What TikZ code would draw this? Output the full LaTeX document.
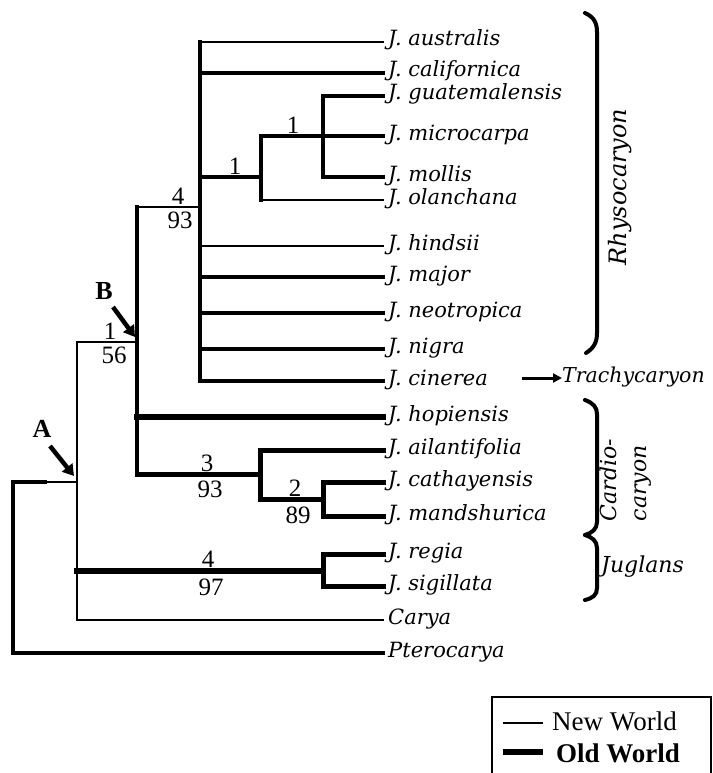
\documentclass[tikz,border=0pt]{standalone}
\usepackage{fontspec}
\setmainfont{Liberation Serif}
\newfontfamily\spfont{DejaVu Serif}
\usetikzlibrary{arrows.meta}

\tikzset{
  edge/.style={line cap=rect, line join=miter},
  nw/.style={edge, line width=2pt},      % New World branch
  ow/.style={edge, line width=3.5pt},    % Old World branch
  owb/.style={edge, line width=5pt},
  owx/.style={edge, line width=6.5pt},
  leaf/.style={font=\spfont\itshape\fontsize{21}{24}\selectfont, inner sep=0pt, anchor=base west},
  num/.style={font=\fontsize{25}{25}\selectfont, inner sep=0pt},
  clade/.style={font=\spfont\itshape\fontsize{22}{30}\selectfont, inner sep=0pt},
  tag/.style={font=\bfseries\fontsize{26}{26}\selectfont, inner sep=0pt},
  pointer/.style={line width=4.5pt, -{Triangle[length=11pt,width=13pt]}},
  brace/.style={line width=4pt, line cap=round},
  legendtxt/.style={font=\fontsize{27}{27}\selectfont, inner sep=0pt, anchor=base west},
}

\begin{document}
\begin{tikzpicture}[x=1pt, y=-1pt]
\useasboundingbox (0,0) rectangle (712,773);

% ---- tip coordinates (end of each terminal branch)
\coordinate (lAus) at (383,42);
\coordinate (lCal) at (383,73);
\coordinate (lGua) at (383,96);
\coordinate (lMic) at (383,136);
\coordinate (lMol) at (383,177);
\coordinate (lOla) at (383,200);
\coordinate (lHin) at (383,246);
\coordinate (lMaj) at (383,277);
\coordinate (lNeo) at (383,313);
\coordinate (lNig) at (383,349);
\coordinate (lCin) at (383,381);
\coordinate (lHop) at (383,417);
\coordinate (lAil) at (383,450);
\coordinate (lCat) at (383,482);
\coordinate (lMan) at (383,516);
\coordinate (lReg) at (383,554);
\coordinate (lSig) at (383,586);
\coordinate (lCar) at (383,620);
\coordinate (lPte) at (383,653);

% ---- internal nodes (x of the vertical bar, y where the stem joins)
\coordinate (root) at (13,482);
\coordinate (nA) at (77,482);
\coordinate (nB) at (137,342);
\coordinate (nR) at (200,207);
\coordinate (n1) at (261,177);
\coordinate (n2) at (323,136);
\coordinate (nC) at (260,474);
\coordinate (nD) at (323,499);
\coordinate (nJ) at (323,571);

% ---- root
\draw[nw] (root) -- (nA);
\draw[ow] (root) -- ++(32,0);
\draw[ow, line width=4pt] (root) |- (lPte);

% ---- node A
\draw[nw] (nA |- nB) |- (lCar);
\draw[nw] (nA |- nB) -- (nB);
\draw[owb, line width=6pt] (nA |- nJ) -- (nJ);

% ---- Juglans clade
\draw[owb] (nJ |- lReg) -- (nJ |- lSig);
\draw[owb] (nJ |- lReg) -- (lReg);
\draw[owb] (nJ |- lSig) -- (lSig);

% ---- node B
\draw[edge, line width=4pt] (nB |- nR) -- (nB |- nC);
\draw[nw] (nB |- nR) -- (nR);
\draw[owx] (nB |- lHop) -- (lHop);
\draw[owb] (nB |- nC) -- (nC);

% ---- Cardiocaryon clade
\draw[owb] (nC |- lAil) -- (nC |- nD);
\draw[owb] (nC |- lAil) -- (lAil);
\draw[owb] (nC |- nD) -- (nD);
\draw[owb] (nD |- lCat) -- (nD |- lMan);
\draw[owb] (nD |- lCat) -- (lCat);
\draw[owb] (nD |- lMan) -- (lMan);

% ---- Rhysocaryon clade
\draw[ow] (nR |- lAus) -- (nR |- lCin);
\draw[nw] (nR |- lAus) -- (lAus);
\draw[ow] (nR |- lCal) -- (lCal);
\draw[ow] (nR |- n1) -- (n1);
\draw[nw] (nR |- lHin) -- (lHin);
\draw[ow] (nR |- lMaj) -- (lMaj);
\draw[ow] (nR |- lNeo) -- (lNeo);
\draw[ow] (nR |- lNig) -- (lNig);
\draw[ow] (nR |- lCin) -- (lCin);
\draw[ow] (n1 |- lMic) -- (n1 |- lOla);
\draw[ow] (n1 |- lMic) -- (n2);
\draw[nw] (n1 |- lOla) -- (lOla);
\draw[ow] (n2 |- lGua) -- (n2 |- lMol);
\draw[ow] (n2 |- lGua) -- (lGua);
\draw[ow] (n2) -- (lMic);
\draw[ow] (n2 |- lMol) -- (lMol);

% ---- tip labels
\node[leaf] (tAus) at ([xshift=5pt,yshift=-4pt]lAus) {J. australis};
\node[leaf] (tCal) at ([xshift=5pt,yshift=-4pt]lCal) {J. californica};
\node[leaf] (tGua) at ([xshift=5pt,yshift=-4pt]lGua) {J. guatemalensis};
\node[leaf] (tMic) at ([xshift=5pt,yshift=-4pt]lMic) {J. microcarpa};
\node[leaf] (tMol) at ([xshift=5pt,yshift=-4pt]lMol) {J. mollis};
\node[leaf] (tOla) at ([xshift=5pt,yshift=-4pt]lOla) {J. olanchana};
\node[leaf] (tHin) at ([xshift=5pt,yshift=-4pt]lHin) {J. hindsii};
\node[leaf] (tMaj) at ([xshift=5pt,yshift=-4pt]lMaj) {J. major};
\node[leaf] (tNeo) at ([xshift=5pt,yshift=-4pt]lNeo) {J. neotropica};
\node[leaf] (tNig) at ([xshift=5pt,yshift=-4pt]lNig) {J. nigra};
\node[leaf] (tCin) at ([xshift=5pt,yshift=-4pt]lCin) {J. cinerea};
\node[leaf] (tHop) at ([xshift=5pt,yshift=-4pt]lHop) {J. hopiensis};
\node[leaf] (tAil) at ([xshift=5pt,yshift=-4pt]lAil) {J. ailantifolia};
\node[leaf] (tCat) at ([xshift=5pt,yshift=-4pt]lCat) {J. cathayensis};
\node[leaf] (tMan) at ([xshift=5pt,yshift=-4pt]lMan) {J. mandshurica};
\node[leaf] (tReg) at ([xshift=5pt,yshift=-4pt]lReg) {J. regia};
\node[leaf] (tSig) at ([xshift=5pt,yshift=-4pt]lSig) {J. sigillata};
\node[leaf] (tCar) at ([xshift=5pt,yshift=-4pt]lCar) {Carya};
\node[leaf] (tPte) at ([xshift=5pt,yshift=-4pt]lPte) {Pterocarya};

% ---- branch support values
\node[num, anchor=south] (s1a) at (235,175) {1};
\node[num, anchor=south] (s1b) at (293,134) {1};
\node[num, anchor=south] (s4a) at (178,205) {4};
\node[num, anchor=north] (s93a) at (180,212) {93};
\node[num, anchor=south] (s1c) at (110,340) {1};
\node[num, anchor=north] (s56) at (114,347) {56};
\node[num, anchor=south] (s3) at (207,472) {3};
\node[num, anchor=north] (s93b) at (210,481) {93};
\node[num, anchor=south] (s2) at (295,497) {2};
\node[num, anchor=north] (s89) at (298,507) {89};
\node[num, anchor=south] (s4b) at (208,568) {4};
\node[num, anchor=north] (s97) at (211,579) {97};

% ---- pointers A and B
\node[tag] (tagA) at (42,429) {A};
\node[tag] (tagB) at (104,291) {B};
\coordinate (pA0) at (50,446);
\coordinate (pA1) at (74,476);
\coordinate (pB0) at (113,307);
\coordinate (pB1) at (135,337);
\draw[pointer] (pA0) -- (pA1);
\draw[pointer] (pB0) -- (pB1);

% ---- section brackets
\draw[brace] (585,13) .. controls (594,17) and (597,23) .. (597,32)
  -- (597,333) .. controls (597,342) and (594,348) .. (586,353);
\draw[brace] (585,400) .. controls (593,403) and (597,407) .. (597,414)
  -- (597,522) .. controls (597,529) and (592,533) .. (585,535);
\draw[brace] (585,535) .. controls (592,537) and (597,541) .. (597,548)
  -- (597,588) .. controls (597,595) and (593,598) .. (585,600);

\node[clade, rotate=90, font=\spfont\itshape\fontsize{24}{30}\selectfont] (cRhy) at (620,187) {Rhysocaryon};
\node[clade, rotate=90, align=left] (cCar) at (626,480) {Cardio-\\caryon};
\node[clade, anchor=base west] (cJug) at (601,572) {Juglans};

% ---- Trachycaryon pointer
\node[clade, anchor=base west, font=\spfont\itshape\fontsize{20.5}{30}\selectfont] (cTra) at (562,382) {Trachycaryon};
\coordinate (trS) at (522,378);
\draw[line width=3pt, -{Triangle[length=9pt,width=9pt]}] (trS) -- (trS -| cTra.west);

% ---- legend
\draw[line width=2.5pt] (492,800) -- (492,697) -- (711,697) -- (711,800);
\draw[line width=2pt] (503,723) -- (543,723);
\draw[line width=6pt] (503,752) -- (543,752);
\node[legendtxt] (lgNew) at (552,730) {New World};
\node[legendtxt, font=\bfseries\fontsize{27}{27}\selectfont] (lgOld) at (556,762) {Old World};
\end{tikzpicture}
\end{document}
